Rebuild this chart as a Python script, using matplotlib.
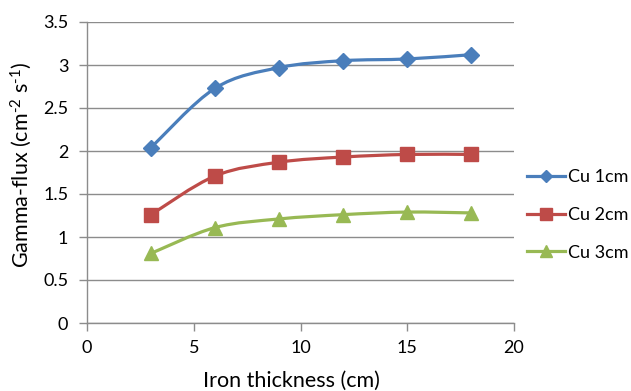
import matplotlib
matplotlib.use("Agg")
import matplotlib.pyplot as plt
from matplotlib.path import Path
from matplotlib.patches import PathPatch
from matplotlib.lines import Line2D

plt.rcParams['font.family'] = ['Lato', 'DejaVu Sans']
plt.rcParams['mathtext.fontset'] = 'custom'
plt.rcParams['mathtext.rm'] = 'Lato'
plt.rcParams['mathtext.it'] = 'Lato'

thickness = [3, 6, 9, 12, 15, 18]
cu1 = [2.04, 2.73, 2.97, 3.05, 3.07, 3.12]
cu2 = [1.26, 1.71, 1.87, 1.93, 1.96, 1.96]
cu3 = [0.81, 1.11, 1.21, 1.26, 1.29, 1.28]
series_names = ["Cu 1cm", "Cu 2cm", "Cu 3cm"]
colors = ["#4A7EBB", "#BE4B48", "#98B954"]
markers = ["D", "s", "^"]
msizes = [8, 10, 10]

fig = plt.figure(figsize=(6.31, 3.91), dpi=100)
ax = fig.add_axes([87/631, 1-323/391, (514-87)/631, (323-22)/391])


def smooth_path(xs, ys):
    pts = list(zip(xs, ys))
    verts = [pts[0]]
    codes = [Path.MOVETO]
    n = len(pts)
    for i in range(n - 1):
        p0 = pts[i - 1] if i > 0 else pts[i]
        p1 = pts[i]
        p2 = pts[i + 1]
        p3 = pts[i + 2] if i + 2 < n else pts[i + 1]
        c1 = (p1[0] + (p2[0] - p0[0]) / 6, p1[1] + (p2[1] - p0[1]) / 6)
        c2 = (p2[0] - (p3[0] - p1[0]) / 6, p2[1] - (p3[1] - p1[1]) / 6)
        verts += [c1, c2, p2]
        codes += [Path.CURVE4] * 3
    return Path(verts, codes)


handles = []
for ys, name, c, m, ms in zip([cu1, cu2, cu3], series_names, colors, markers, msizes):
    patch = PathPatch(smooth_path(thickness, ys), facecolor='none', edgecolor=c,
                      lw=2.3, transform=ax.transData, zorder=3, capstyle='round')
    ax.add_patch(patch)
    ax.plot(thickness, ys, linestyle='none', marker=m, color=c, ms=ms, zorder=4)
    handles.append(Line2D([], [], color=c, lw=2.3, marker=m, ms=ms * 0.8, label=name))

ax.set_xlim(0, 20)
ax.set_ylim(0, 3.5)
ax.set_xticks([0, 5, 10, 15, 20])
ax.set_yticks([0, 0.5, 1, 1.5, 2, 2.5, 3, 3.5])
ax.set_yticklabels(["0", "0.5", "1", "1.5", "2", "2.5", "3", "3.5"])
ax.grid(axis='y', color='#8C8C8C', lw=1.0)
ax.set_axisbelow(True)
for s in ['top', 'right']:
    ax.spines[s].set_visible(False)
for s in ['left', 'bottom']:
    ax.spines[s].set_color('#8C8C8C')
    ax.spines[s].set_linewidth(1.0)
ax.tick_params(axis='both', colors='#8C8C8C', length=5.5, width=1.0, labelsize=13,
               labelcolor='black')
ax.tick_params(axis='x', pad=7)
ax.tick_params(axis='y', pad=8)

ax.set_xlabel("Iron thickness (cm)", fontsize=15.5, va='top')
ax.xaxis.set_label_coords((291 - 87) / 427, (323 - 371) / 301)
ax.set_ylabel(r"Gamma-flux (cm$^{\text{-2}}$ s$^{\text{-1}}$)", fontsize=15.5, va='center')
ax.yaxis.set_label_coords((21 - 87) / 427, (323 - 165) / 301)

leg = fig.legend(handles=handles, loc='center left', bbox_to_anchor=(527/631, 1-215/391),
                 frameon=False, fontsize=13, handlelength=2.1, handletextpad=0.15,
                 labelspacing=1.2, borderpad=0, borderaxespad=0)

fig.savefig("out.png", dpi=100)
